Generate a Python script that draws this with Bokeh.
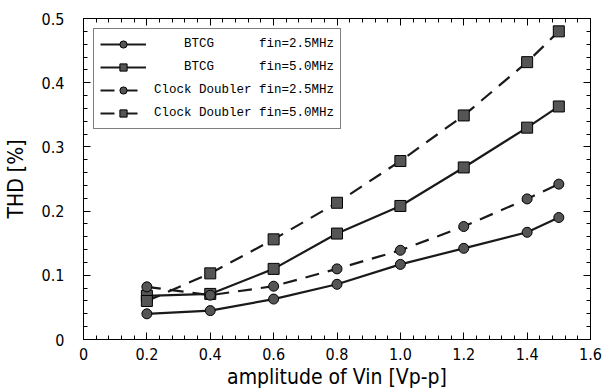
from bokeh.plotting import figure
from bokeh.models import (Legend, LegendItem, FixedTicker, PrintfTickFormatter,
                          LinearAxis, Range1d, CustomJSTickFormatter)
from bokeh.embed import file_html
from bokeh.resources import INLINE

# ---- data ----
amplitude = [0.2, 0.4, 0.6, 0.8, 1.0, 1.2, 1.4, 1.5]
btcg_25 = [0.040, 0.045, 0.063, 0.086, 0.117, 0.142, 0.167, 0.190]
btcg_50 = [0.068, 0.071, 0.110, 0.165, 0.208, 0.268, 0.330, 0.363]
cd_25 = [0.082, 0.069, 0.083, 0.110, 0.139, 0.176, 0.219, 0.242]
cd_50 = [0.060, 0.103, 0.156, 0.213, 0.278, 0.349, 0.432, 0.480]

labels = ["    BTCG      fin=2.5MHz",
          "    BTCG      fin=5.0MHz",
          "Clock Doubler fin=2.5MHz",
          "Clock Doubler fin=5.0MHz"]
x_ticks = [0, 0.2, 0.4, 0.6, 0.8, 1.0, 1.2, 1.4, 1.6]
y_ticks = [0, 0.1, 0.2, 0.3, 0.4, 0.5]

FONT = "DejaVu Sans Condensed, Liberation Sans Narrow, DejaVu Sans, sans-serif"
MONO = "Liberation Mono, DejaVu Sans Mono, monospace"

p = figure(width=609, height=391, output_backend="svg", toolbar_location=None,
           x_range=Range1d(0, 1.6), y_range=Range1d(0, 0.5),
           min_border_left=83, min_border_right=19, min_border_top=18,
           min_border_bottom=49, background_fill_color="white",
           border_fill_color="white")
p.grid.visible = False
p.outline_line_color = "black"
p.outline_line_width = 1

x_minor = [i * 0.04 for i in range(41)]
y_minor = [i * 0.02 for i in range(26)]

for ax in (p.xaxis[0], p.yaxis[0]):
    ax.major_tick_in = 7
    ax.major_tick_out = 0
    ax.minor_tick_in = 4
    ax.minor_tick_out = 0
    ax.axis_line_color = "black"
    ax.major_label_text_font = FONT
    ax.major_label_text_font_size = "16px"
    ax.major_label_text_color = "black"
    ax.axis_label_text_font = FONT
    ax.axis_label_text_font_style = "normal"
    ax.axis_label_text_font_size = "21px"
    ax.axis_label_text_color = "black"

p.xaxis[0].ticker = FixedTicker(ticks=x_ticks, minor_ticks=x_minor)
p.yaxis[0].ticker = FixedTicker(ticks=y_ticks, minor_ticks=y_minor)
p.xaxis[0].formatter = PrintfTickFormatter(format="%.1f")
p.yaxis[0].formatter = PrintfTickFormatter(format="%.1f")
p.xaxis[0].major_label_overrides = {0: "0"}
p.yaxis[0].major_label_overrides = {0: "0"}
p.xaxis[0].axis_label = "amplitude of Vin [Vp-p]"
p.yaxis[0].axis_label = "THD [%]"
p.xaxis[0].major_label_standoff = 8
p.xaxis[0].axis_label_standoff = 2
p.yaxis[0].major_label_standoff = 19
p.yaxis[0].axis_label_standoff = 11

# mirrored axes (ticks only)
blank = CustomJSTickFormatter(code="return ''")
top = LinearAxis(ticker=FixedTicker(ticks=x_ticks, minor_ticks=x_minor),
                 formatter=blank, major_tick_in=7, major_tick_out=0,
                 minor_tick_in=4, minor_tick_out=0, major_label_standoff=0)
right = LinearAxis(ticker=FixedTicker(ticks=y_ticks, minor_ticks=y_minor),
                   formatter=blank, major_tick_in=7, major_tick_out=0,
                   minor_tick_in=4, minor_tick_out=0, major_label_standoff=0)
p.add_layout(top, "above")
p.add_layout(right, "right")

LINE = "#1a1a1a"
FILL = "#555555"
items = []
series = [(btcg_25, "solid", "circle"), (btcg_50, "solid", "square"),
          (cd_25, "14 9", "circle"), (cd_50, "14 9", "square")]
for (ys, dash, mk), lab in zip(series, labels):
    r1 = p.line(amplitude, ys, line_color=LINE, line_width=2.2, line_dash=dash)
    r2 = p.scatter(amplitude, ys, marker=mk, size=10 if mk == "circle" else 11,
                   fill_color=FILL, line_color="black", line_width=1)
    items.append(LegendItem(label=lab, renderers=[r1, r2]))

legend = Legend(items=items, location="top_left",
                label_text_font=MONO, label_text_font_size="12.5px",
                label_text_color="black", border_line_color="black",
                border_line_width=1.5, glyph_width=46, glyph_height=18,
                spacing=5, padding=6, margin=10, label_standoff=8,
                background_fill_alpha=1)
p.add_layout(legend)

open("out.html", "w").write(file_html(p, INLINE))
